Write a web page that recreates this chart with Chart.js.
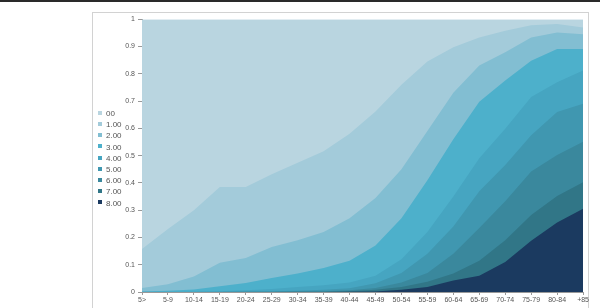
<!DOCTYPE html>
<html>
<head>
<meta charset="utf-8">
<script src="https://cdn.jsdelivr.net/npm/chart.js@4.4.0/dist/chart.umd.min.js"></script>
<style>
  body { margin: 0; background: #fff; width: 600px; height: 308px; overflow: hidden; position: relative; font-family: "Liberation Sans", Arial, sans-serif; }
  #topline { position: absolute; left: 0; top: 0; width: 600px; height: 2px; background: #2a2a2a; }
  #frame { position: absolute; left: 92px; top: 12px; width: 495px; height: 300px; border: 1px solid #d2d2d2; }
  #wrap { position: absolute; left: 92px; top: 12px; width: 498px; height: 296px; }
  #legend { position: absolute; left: 98px; top: 108px; font-size: 8px; color: #555; }
  #legend div { height: 11.2px; line-height: 11.2px; white-space: nowrap; }
  #legend span { display: inline-block; width: 4px; height: 4px; margin-right: 4px; vertical-align: middle; position: relative; top: -1px; }
</style>
</head>
<body>
<div id="topline"></div>
<div id="frame"></div>
<div id="wrap"><canvas id="areaChart" width="498" height="296"></canvas></div>
<div id="legend"></div>

<script>
  // age groups
  const ages = ["5>", "5-9", "10-14", "15-19", "20-24", "25-29", "30-34", "35-39", "40-44",
    "45-49", "50-54", "55-59", "60-64", "65-69", "70-74", "75-79", "80-84", "+85"];

  const seriesNames = ["00", "1.00", "2.00", "3.00", "4.00", "5.00", "6.00", "7.00", "8.00"];

  // share of people with at least N
  const s00 = [1, 1, 1, 1, 1, 1, 1, 1, 1, 1, 1, 1, 1, 1, 1, 1, 1, 1];
  const s1 = [0.158, 0.231, 0.300, 0.385, 0.385, 0.432, 0.474, 0.516, 0.580, 0.662, 0.760, 0.845, 0.897, 0.933, 0.958, 0.978, 0.982, 0.970];
  const s2 = [0.015, 0.028, 0.057, 0.107, 0.125, 0.165, 0.190, 0.220, 0.270, 0.345, 0.450, 0.590, 0.730, 0.830, 0.879, 0.933, 0.951, 0.945];
  const s3 = [0.002, 0.005, 0.009, 0.021, 0.033, 0.051, 0.068, 0.088, 0.115, 0.170, 0.270, 0.410, 0.560, 0.697, 0.775, 0.848, 0.891, 0.891];
  const s4 = [0.001, 0.001, 0.002, 0.003, 0.006, 0.011, 0.018, 0.025, 0.035, 0.060, 0.120, 0.220, 0.350, 0.490, 0.598, 0.715, 0.769, 0.812];
  const s5 = [0, 0, 0, 0.001, 0.002, 0.003, 0.005, 0.008, 0.014, 0.032, 0.070, 0.140, 0.240, 0.369, 0.466, 0.575, 0.660, 0.690];
  const s6 = [0, 0, 0, 0, 0.001, 0.001, 0.002, 0.003, 0.006, 0.015, 0.035, 0.070, 0.140, 0.235, 0.333, 0.442, 0.502, 0.551];
  const s7 = [0, 0, 0, 0, 0, 0, 0.001, 0.001, 0.003, 0.008, 0.018, 0.038, 0.068, 0.115, 0.190, 0.282, 0.352, 0.402];
  const s8 = [0, 0, 0, 0, 0, 0, 0, 0, 0.001, 0.002, 0.008, 0.018, 0.042, 0.060, 0.110, 0.188, 0.255, 0.305];

  const seriesValues = [s00, s1, s2, s3, s4, s5, s6, s7, s8];

  const colors = ["#b9d5e0", "#a3cbda", "#82bed2", "#4db0cb", "#46a5c1", "#4097b0", "#3a889d", "#317687", "#1b3a60"];

  // legend
  const legendEl = document.getElementById("legend");
  seriesNames.forEach((name, i) => {
    const row = document.createElement("div");
    row.innerHTML = '<span style="background:' + colors[i] + '"></span>' + name;
    legendEl.appendChild(row);
  });

  const ctx = document.getElementById("areaChart").getContext("2d");
  new Chart(ctx, {
    type: "line",
    data: {
      labels: ages,
      datasets: seriesNames.map((name, i) => ({
        label: name,
        data: seriesValues[i],
        backgroundColor: colors[i],
        borderWidth: 0,
        pointRadius: 0,
        fill: "origin",
        tension: 0,
        order: seriesNames.length - i, // darker ones drawn on top
      })),
    },
    options: {
      responsive: false,
      animation: false,
      layout: { padding: { top: 4, right: 0, left: 0, bottom: 0 } },
      plugins: {
        legend: { display: false },
        tooltip: { enabled: false },
      },
      scales: {
        x: {
          offset: false,
          grid: { drawOnChartArea: false, tickLength: 3, color: "#999" },
          border: { color: "#999" },
          ticks: { font: { size: 7, family: "Liberation Sans" }, color: "#555", padding: 1, autoSkip: false, maxRotation: 0 },
          afterFit: (s) => { s.height = 16; },
        },
        y: {
          min: 0,
          max: 1,
          ticks: {
            stepSize: 0.1,
            font: { size: 7, family: "Liberation Sans" },
            color: "#555",
            padding: 3,
            callback: (v) => String(Number(v.toFixed(1))),
          },
          grid: { drawOnChartArea: false, tickLength: 4, color: "#999" },
          border: { color: "#999" },
          afterFit: (s) => { s.width = 50; },
        },
      },
    },
  });
</script>
</body>
</html>
